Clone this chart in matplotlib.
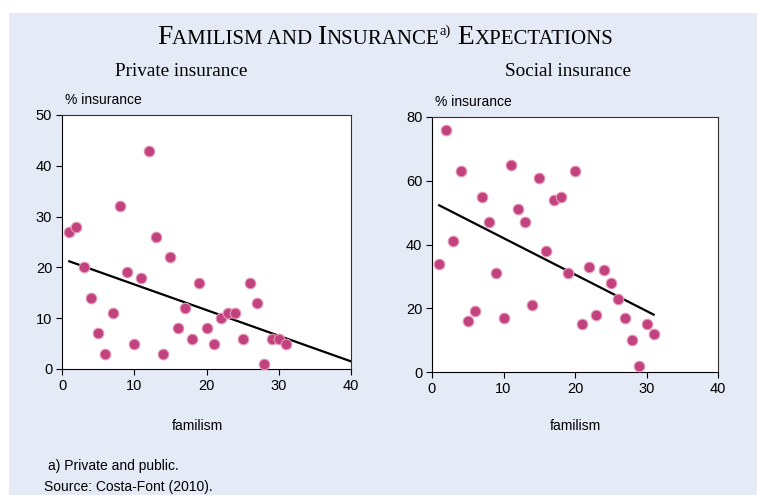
import numpy as np
import matplotlib.pyplot as plt
from matplotlib.patches import Rectangle

# familism score (x) and % insurance (y)
familism = list(range(1, 32))
private_ins = [27, 28, 20, 14, 7, 3, 11, 32, 19, 5, 18, 43, 26, 3, 22, 8,
               12, 6, 17, 8, 5, 10, 11, 11, 6, 17, 13, 1, 6, 6, 5]
social_ins = [34, 76, 41, 63, 16, 19, 55, 47, 31, 17, 65, 51, 47, 21, 61, 38,
              54, 55, 31, 63, 15, 33, 18, 32, 28, 23, 17, 10, 2, 15, 12]

# fitted lines (end points)
private_fit_x = [1, 40]
private_fit_y = [21.2, 1.5]
social_fit_x = [1, 31]
social_fit_y = [52.3, 18.0]

bg = '#e4eaf6'
dot = '#c2427f'
dot_edge = '#e79ab8'

W, H = 757, 495
fig = plt.figure(figsize=(7.57, 4.95), dpi=100)
fig.patches.append(Rectangle((9 / W, 0), 1, 1 - 13 / H, transform=fig.transFigure,
                             facecolor=bg, edgecolor='none', zorder=-10))

sans = 'Liberation Sans'
serif = 'Liberation Serif'


def panel(rect, x, y, fx, fy, ymax, ystep, subtitle, sub_x, xlab_x):
    ax = fig.add_axes(rect)
    ax.set_facecolor('white')
    ax.scatter(x, y, s=58, color=dot, edgecolors=dot_edge, linewidths=0.8, zorder=3, clip_on=False)
    ax.plot(fx, fy, color='black', linewidth=1.6, zorder=2)
    ax.set_xlim(0, 40)
    ax.set_ylim(0, ymax)
    ax.set_xticks([0, 10, 20, 30, 40])
    ax.set_yticks(np.arange(0, ymax + 1, ystep))
    for s in ax.spines.values():
        s.set_linewidth(0.8)
        s.set_color('#333333')
    ax.spines['left'].set_color('black')
    ax.spines['bottom'].set_color('black')
    ax.tick_params(direction='out', length=4, width=0.8, labelsize=10.5, pad=3)
    for lab in ax.get_xticklabels() + ax.get_yticklabels():
        lab.set_fontfamily(sans)
    ax.text(0.01, 1.03, '% insurance', transform=ax.transAxes, fontsize=10,
            family=sans, ha='left', va='bottom')
    fig.text(xlab_x / W, 1 - 430 / H, 'familism', fontsize=10, family=sans, ha='center')
    fig.text(sub_x / W, 1 - 76 / H, subtitle, fontsize=13.8, family=serif, ha='center')
    return ax


panel([62 / W, 1 - 369 / H, 289 / W, 254 / H], familism, private_ins,
      private_fit_x, private_fit_y, 50, 10, 'Private insurance', 181, 197)
panel([432 / W, 1 - 372 / H, 286 / W, 255 / H], familism, social_ins,
      social_fit_x, social_fit_y, 80, 20, 'Social insurance', 568, 575)

# small-caps title built from pieces
pieces = [('F', 19.8, False), ('AMILISM AND ', 15, False), ('I', 19.8, False),
          ('NSURANCE', 15, False), ('a)', 10.5, True), (' E', 19.8, False),
          ('XPECTATIONS', 15, False)]
fig.canvas.draw()
r = fig.canvas.get_renderer()
widths = []
texts = []
for s, size, sup in pieces:
    t = fig.text(0, 0, s, fontsize=size, family=serif, va='baseline')
    widths.append(t.get_window_extent(r).width)
    texts.append(t)
total = sum(widths)
x0 = 385 - total / 2
base = H - 44
for t, w, (s, size, sup) in zip(texts, widths, pieces):
    t.set_position((x0 / W, (base + (9 if sup else 0)) / H))
    x0 += w

fig.text(48 / W, 1 - 470 / H, 'a) Private and public.', fontsize=10, family=sans)
fig.text(44 / W, 1.5 / H, 'Source: Costa-Font (2010).', fontsize=10, family=sans, va='bottom')

fig.savefig('out.png', dpi=100)
